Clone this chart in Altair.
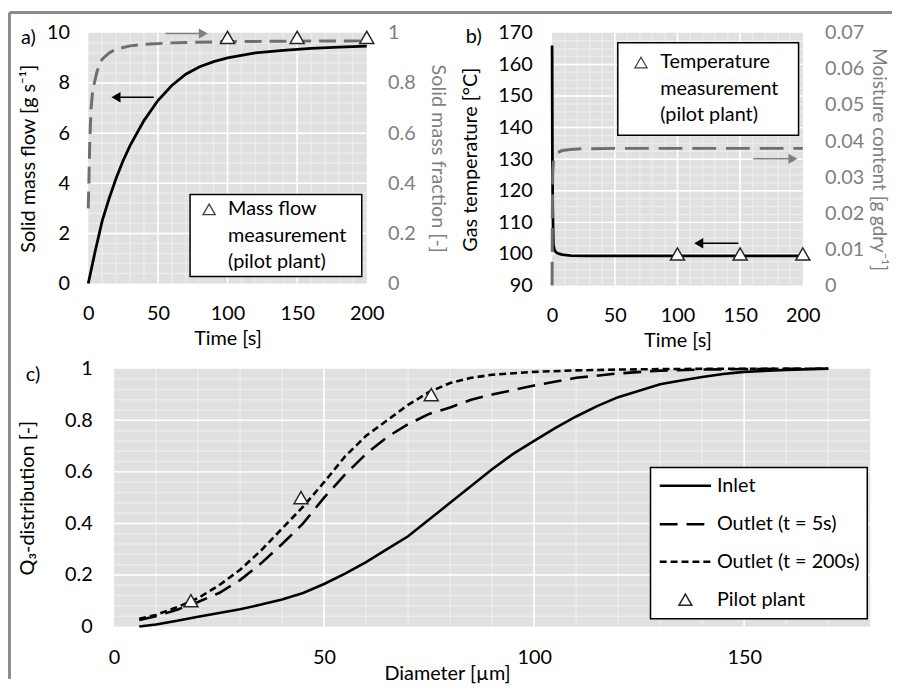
import altair as alt
import pandas as pd

FONT = "Lato"
FS = 20
BLACK = "#000000"
GRAY_TXT = "#7f7f7f"
GRAY_LINE = "#6e6e6e"
ARROW_GRAY = "#808080"
BG = "#e0e0e0"
MINOR = "#ebebeb"
MAJOR = "#ffffff"
FRAME = "#8c8c8c"
TRI = "#262626"

# ---------------- data: panel a ----------------
a_time = [0, 5, 10, 15, 20, 25, 30, 40, 50, 60, 70, 80, 90, 100, 120, 140, 160, 180, 200]
a_flow = [0, 1.3, 2.5, 3.4, 4.2, 4.9, 5.5, 6.5, 7.3, 7.9, 8.35, 8.65, 8.85, 9.0, 9.2, 9.3, 9.38, 9.43, 9.47]
a_time_frac = [0, 0.5, 1, 2, 3, 4, 6, 8, 10, 15, 20, 30, 40, 60, 100, 150, 200]
a_frac = [0.30, 0.42, 0.55, 0.70, 0.76, 0.79, 0.84, 0.875, 0.895, 0.92, 0.935, 0.948, 0.954, 0.96, 0.965, 0.967, 0.968]
a_meas_time = [100, 150, 200]
a_meas_frac = [0.982, 0.982, 0.982]
a_legend = ["Mass flow", "measurement", "(pilot plant)"]

# ---------------- data: panel b ----------------
b_time_temp = [0, 0.2, 0.5, 1, 1.5, 2, 3, 4, 6, 8, 15, 30, 50, 100, 150, 200]
b_temp = [166, 135, 115, 103, 102, 101.2, 100.6, 100.3, 100.0, 99.8, 99.5, 99.4, 99.4, 99.4, 99.4, 99.4]
b_time_moist = [0, 0.2, 0.5, 1, 2, 4, 8, 15, 25, 50, 100, 200]
b_moist = [0, 0.02, 0.031, 0.034, 0.0358, 0.0368, 0.0374, 0.0377, 0.0379, 0.038, 0.038, 0.038]
b_meas_time = [100, 150, 200]
b_meas_temp = [100, 100, 100]
b_legend = ["Temperature", "measurement", "(pilot plant)"]

# ---------------- data: panel c ----------------
c_d_inlet = [6, 10, 15, 20, 25, 30, 35, 40, 45, 50, 55, 60, 65, 70, 75, 80, 85, 90, 95, 100,
             105, 110, 115, 120, 125, 130, 135, 140, 145, 150, 160, 170]
c_q_inlet = [0, 0.008, 0.022, 0.038, 0.052, 0.067, 0.085, 0.105, 0.13, 0.165, 0.205, 0.25, 0.30, 0.35, 0.415,
             0.48, 0.545, 0.61, 0.67, 0.72, 0.77, 0.815, 0.855, 0.89, 0.915, 0.94, 0.955, 0.968, 0.98, 0.988, 0.996, 1.0]
c_d_out5 = [6, 10, 15, 20, 25, 30, 35, 40, 45, 50, 55, 60, 65, 70, 75, 80, 85, 90, 100, 110, 120, 130, 140, 150, 160, 170]
c_q_out5 = [0.025, 0.04, 0.065, 0.095, 0.13, 0.18, 0.245, 0.32, 0.40, 0.50, 0.59, 0.67, 0.735, 0.785, 0.825,
            0.85, 0.88, 0.90, 0.935, 0.965, 0.982, 0.993, 0.997, 0.999, 1.0, 1.0]
c_d_out200 = [6, 10, 15, 20, 25, 30, 35, 40, 45, 50, 55, 60, 65, 70, 75, 80, 85, 90, 100, 110, 120, 130, 140, 150, 160, 170]
c_q_out200 = [0.03, 0.045, 0.075, 0.11, 0.16, 0.22, 0.295, 0.38, 0.465, 0.56, 0.66, 0.74, 0.80, 0.86, 0.91,
              0.945, 0.965, 0.977, 0.988, 0.994, 0.997, 0.999, 1.0, 1.0, 1.0, 1.0]
c_pilot_d = [18.3, 44.5, 75.5]
c_pilot_q = [0.10, 0.50, 0.90]
c_legend = ["Inlet", "Outlet (t = 5s)", "Outlet (t = 200s)", "Pilot plant"]

panel_labels = ["a)", "b)", "c)"]


def frame(**c):
    return pd.DataFrame(c)


def grid_layers(X, Y, x_lo, x_hi, minor_x, major_x, minor_y, major_y):
    layers = [
        alt.Chart(frame(x=[x_lo], x2=[x_hi])).mark_rect(color=BG).encode(x=X(), x2="x2:Q"),
        alt.Chart(frame(x=minor_x)).mark_rule(color=MINOR, strokeWidth=1.5).encode(x=X()),
        alt.Chart(frame(y=minor_y, x=[x_lo] * len(minor_y), x2=[x_hi] * len(minor_y)))
        .mark_rule(color=MINOR, strokeWidth=1.5).encode(y=Y(), x=X(), x2="x2:Q"),
        alt.Chart(frame(x=major_x)).mark_rule(color=MAJOR, strokeWidth=1.5).encode(x=X()),
        alt.Chart(frame(y=major_y, x=[x_lo] * len(major_y), x2=[x_hi] * len(major_y)))
        .mark_rule(color=MAJOR, strokeWidth=1.5).encode(y=Y(), x=X(), x2="x2:Q"),
    ]
    return layers


def arrow(X, Y, tail, head, yv, color, shape):
    r = alt.Chart(frame(x=[tail], x2=[head], y=[yv])).mark_rule(color=color, strokeWidth=1.5).encode(
        x=X(), x2="x2:Q", y=Y())
    h = alt.Chart(frame(x=[head], y=[yv])).mark_point(shape=shape, filled=True, color=color, size=110,
                                                       opacity=1).encode(x=X(), y=Y())
    return [r, h]


def textbox(X, Y, box, tri, text_x, text_y, lines):
    b = alt.Chart(frame(x=[box[0]], x2=[box[1]], y=[box[2]], y2=[box[3]])).mark_rect(
        fill="white", stroke="black", strokeWidth=1.5).encode(x=X(), x2="x2:Q", y=Y(), y2="y2:Q")
    t = alt.Chart(frame(x=[tri[0]], y=[tri[1]])).mark_point(shape="triangle-up", filled=True, fill="white",
                                                           stroke="#404040", strokeWidth=1.3, size=150,
                                                           opacity=1).encode(x=X(), y=Y())
    tx = alt.Chart(frame(x=[text_x] * len(lines), y=text_y, t=lines)).mark_text(
        align="left", baseline="middle", font=FONT, fontSize=FS, color="black").encode(x=X(), y=Y(), text="t:N")
    return [b, t, tx]


def label(text, px, py):
    return alt.Chart(frame(k=[0])).mark_text(align="left", baseline="middle", font=FONT, fontSize=FS,
                                             color="black").encode(
        x=alt.value(px), y=alt.value(py), text=alt.value(text))


# ======================= panel a =======================
xs_a = alt.Scale(domain=[0, 200], nice=False, zero=False)
yl_a = alt.Scale(domain=[0, 10], nice=False, zero=False)
yr_a = alt.Scale(domain=[0, 1], nice=False, zero=False)
xax_a = alt.Axis(values=[0, 50, 100, 150, 200], title="Time [s]", labelPadding=20, titlePadding=5)
ylax_a = alt.Axis(values=[0, 2, 4, 6, 8, 10], title="Solid mass flow [g s⁻¹]", labelPadding=19, titlePadding=8)
yrax_a = alt.Axis(orient="right", values=[0, 0.2, 0.4, 0.6, 0.8, 1], format="~g", title="Solid mass fraction [-]",
                  labelColor=GRAY_TXT, titleColor=GRAY_TXT, labelPadding=21, titlePadding=12)

XA = lambda f="x": alt.X(f"{f}:Q", scale=xs_a, axis=xax_a)
YAL = lambda f="y": alt.Y(f"{f}:Q", scale=yl_a, axis=ylax_a)
YAR = lambda f="y": alt.Y(f"{f}:Q", scale=yr_a, axis=yrax_a)

left_a = grid_layers(XA, YAL, 0, 200, list(range(10, 200, 10)), [50, 100, 150],
                     [i * 0.4 for i in range(1, 25)], [2, 4, 6, 8])
left_a.append(alt.Chart(frame(x=a_time, y=a_flow)).mark_line(color="black", strokeWidth=2.8).encode(x=XA(), y=YAL()))
left_a += arrow(XA, YAL, 47, 19.9, 7.43, "black", "triangle-left")
left_a += textbox(XA, YAL, (73.1, 196.4, 3.55, 0.28), (86.8, 2.96), 100.4, [2.96, 1.90, 0.84], a_legend)
# figure frame (top and left edges) and panel label
left_a.append(alt.Chart(frame(k=[0])).mark_rule(color=FRAME, strokeWidth=3).encode(
    x=alt.value(-79.5), x2=alt.value(811), y=alt.value(-20.5)))
left_a.append(alt.Chart(frame(k=[0])).mark_rule(color=FRAME, strokeWidth=3).encode(
    x=alt.value(-79.5), y=alt.value(-20.5), y2=alt.value(652)))
left_a.append(label(panel_labels[0], -68, 5))

right_a = [
    alt.Chart(frame(x=a_time_frac, y=a_frac)).mark_line(color=GRAY_LINE, strokeWidth=3, strokeDash=[17, 8]).encode(
        x=XA(), y=YAR()),
    alt.Chart(frame(x=a_meas_time, y=a_meas_frac)).mark_point(shape="triangle-up", filled=True, fill="white",
                                                              stroke=TRI, strokeWidth=1.5, size=200,
                                                              opacity=1).encode(x=XA(), y=YAR()),
]
right_a += arrow(XA, YAR, 55.5, 82.6, 0.997, ARROW_GRAY, "triangle-right")

panel_a = alt.layer(alt.layer(*left_a), alt.layer(*right_a)).resolve_scale(y="independent").properties(
    width=281, height=253)

# ======================= panel b =======================
xs_b = alt.Scale(domain=[0, 200], nice=False, zero=False)
yl_b = alt.Scale(domain=[90, 170], nice=False, zero=False)
yr_b = alt.Scale(domain=[0, 0.07], nice=False, zero=False)
xax_b = alt.Axis(values=[0, 50, 100, 150, 200], title="Time [s]", labelPadding=20, titlePadding=5)
ylax_b = alt.Axis(values=[90, 100, 110, 120, 130, 140, 150, 160, 170], title="Gas temperature [°C]",
                  labelPadding=20, titlePadding=17)
yrax_b = alt.Axis(orient="right", values=[0, 0.01, 0.02, 0.03, 0.04, 0.05, 0.06, 0.07], format="~g",
                  title="Moisture content [g gdry⁻¹]", labelColor=GRAY_TXT, titleColor=GRAY_TXT,
                  titleFontSize=19, labelPadding=22, titlePadding=5)

XB = lambda f="x": alt.X(f"{f}:Q", scale=xs_b, axis=xax_b)
YBL = lambda f="y": alt.Y(f"{f}:Q", scale=yl_b, axis=ylax_b)
YBR = lambda f="y": alt.Y(f"{f}:Q", scale=yr_b, axis=yrax_b)

left_b = grid_layers(XB, YBL, 0, 200, list(range(10, 200, 10)), [50, 100, 150],
                     [90 + i * 2.5 for i in range(1, 32)], [100, 110, 120, 130, 140, 150, 160])
left_b.append(alt.Chart(frame(x=b_time_temp, y=b_temp)).mark_line(color="black", strokeWidth=2.8).encode(
    x=XB(), y=YBL()))
left_b.append(alt.Chart(frame(x=b_meas_time, y=b_meas_temp)).mark_point(
    shape="triangle-up", filled=True, fill="white", stroke=TRI, strokeWidth=1.5, size=200, opacity=1).encode(
    x=XB(), y=YBL()))
left_b += arrow(XB, YBL, 148.6, 117, 103.4, "black", "triangle-left")
left_b += textbox(XB, YBL, (52.4, 196.6, 166.9, 137.6), (70.9, 160.6), 86.2, [160.6, 152.2, 143.9], b_legend)
left_b.append(label(panel_labels[1], -87, 4))

right_b = [
    alt.Chart(frame(x=b_time_moist, y=b_moist)).mark_line(color=GRAY_LINE, strokeWidth=3,
                                                         strokeDash=[24, 10]).encode(x=XB(), y=YBR()),
]
right_b += arrow(XB, YBR, 160.5, 192.1, 0.0351, ARROW_GRAY, "triangle-right")

panel_b = alt.layer(alt.layer(*left_b), alt.layer(*right_b)).resolve_scale(y="independent").properties(
    width=253, height=255)

# ======================= panel c =======================
xs_c = alt.Scale(domain=[-6.134, 180], nice=False, zero=False)
ys_c = alt.Scale(domain=[0, 1], nice=False, zero=False)
xax_c = alt.Axis(values=[0, 50, 100, 150], title="Diameter [µm]", labelPadding=21, titleX=362, titleY=48,
                 titleBaseline="middle")
yax_c = alt.Axis(values=[0, 0.2, 0.4, 0.6, 0.8, 1], format="~g", title="Q₃-distribution [-]", offset=-26,
                 labelPadding=22, titlePadding=27)

XC = lambda f="x": alt.X(f"{f}:Q", scale=xs_c, axis=xax_c)
YC = lambda f="y": alt.Y(f"{f}:Q", scale=ys_c, axis=yax_c)

layers_c = grid_layers(XC, YC, 0, 180, list(range(10, 180, 10)), [50, 100, 150],
                       [i * 0.04 for i in range(1, 25)], [0.2, 0.4, 0.6, 0.8])
dashes = [None, [18, 9], [7, 4]]
series_c = [(c_d_inlet, c_q_inlet), (c_d_out5, c_q_out5), (c_d_out200, c_q_out200)]
for (dx, dq), dash in zip(series_c, dashes):
    kw = dict(color="black", strokeWidth=2.6)
    if dash:
        kw["strokeDash"] = dash
    layers_c.append(alt.Chart(frame(x=dx, y=dq)).mark_line(**kw).encode(x=XC(), y=YC()))
layers_c.append(alt.Chart(frame(x=c_pilot_d, y=c_pilot_q)).mark_point(
    shape="triangle-up", filled=True, fill="white", stroke=TRI, strokeWidth=1.5, size=200, opacity=1).encode(
    x=XC(), y=YC()))

# legend box
leg_y = [0.546, 0.397, 0.251, 0.104]
layers_c.append(alt.Chart(frame(x=[127.7], x2=[179.3], y=[0.617], y2=[0.03])).mark_rect(
    fill="white", stroke="black", strokeWidth=1.5).encode(x=XC(), x2="x2:Q", y=YC(), y2="y2:Q"))
for yv, dash in zip(leg_y[:3], dashes):
    kw = dict(color="black", strokeWidth=2.6)
    if dash:
        kw["strokeDash"] = dash
    layers_c.append(alt.Chart(frame(x=[129.9], x2=[142.1], y=[yv])).mark_rule(**kw).encode(
        x=XC(), x2="x2:Q", y=YC()))
layers_c.append(alt.Chart(frame(x=[136], y=[leg_y[3]])).mark_point(
    shape="triangle-up", filled=True, fill="white", stroke=TRI, strokeWidth=1.5, size=170, opacity=1).encode(
    x=XC(), y=YC()))
layers_c.append(alt.Chart(frame(x=[143.5] * 4, y=leg_y, t=c_legend)).mark_text(
    align="left", baseline="middle", font=FONT, fontSize=FS, color="black").encode(x=XC(), y=YC(), text="t:N"))
layers_c.append(label(panel_labels[2], -63, 6))

panel_c = alt.layer(*layers_c).properties(width=789, height=260)

# column offset is measured from the widest cell of column 0 (panel c, 789 px):
# 789 - 321 = 468 px between the left edges of panels a and b
chart = alt.concat(panel_a, panel_b, panel_c, columns=2).properties(
    align="none", bounds="flush", spacing={"row": 84, "column": -321}, padding=0
).configure_view(strokeWidth=0).configure_axis(
    labelFont=FONT, labelFontSize=FS, titleFont=FONT, titleFontSize=FS, titleFontWeight="normal",
    labelColor=BLACK, titleColor=BLACK, domain=False, ticks=False, tickSize=0, grid=False, labelFlush=False
)

chart.save("out.html", embed_options={"renderer": "svg", "actions": False})
